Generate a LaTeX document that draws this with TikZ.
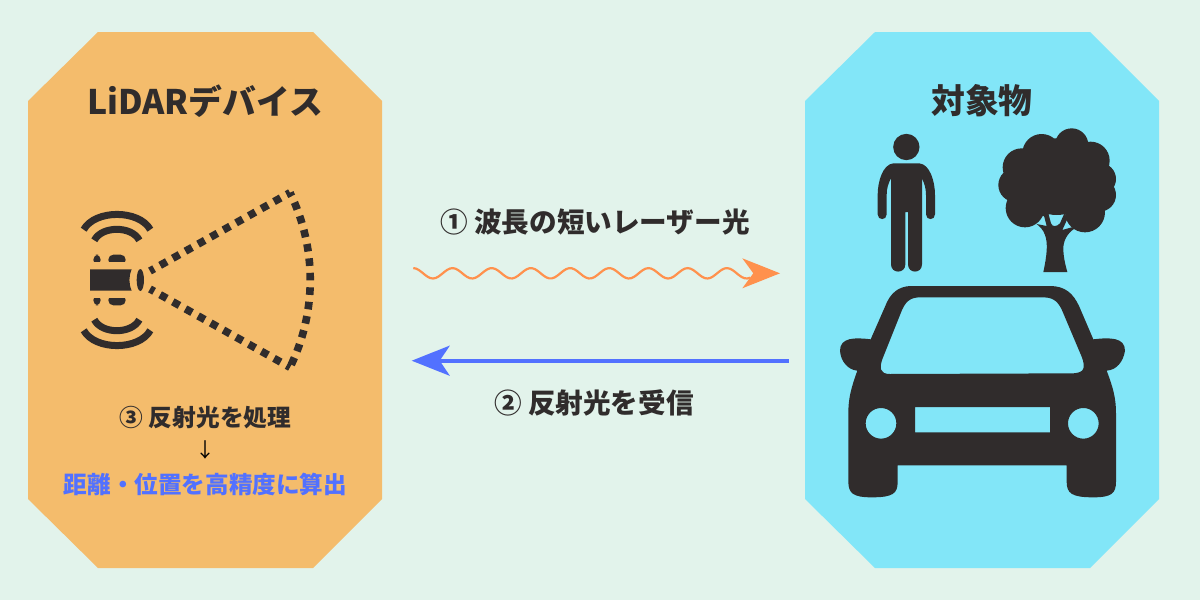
\documentclass[tikz,border=0pt]{standalone}
\usepackage{fontspec}
\usetikzlibrary{arrows.meta}
\newfontfamily\cjk{Noto Sans CJK JP}
\definecolor{bgc}{HTML}{E2F3EB}
\definecolor{panelA}{HTML}{F4BC6C}
\definecolor{panelB}{HTML}{82E6F8}
\definecolor{ink}{HTML}{302C2C}
\definecolor{bluec}{HTML}{5271FF}
\definecolor{orangec}{HTML}{FF914D}
\tikzset{
  lab/.style={inner sep=0pt,anchor=center,text=ink,font=\cjk\bfseries},
  dots/.style={draw=ink,line width=7.6pt,dash pattern=on 7.6pt off 6.9pt,dash phase=3.8pt},
  ring/.style={draw=ink,line width=7pt},
}
\newcommand{\fsz}[1]{\fontsize{#1}{#1}\selectfont}
\begin{document}
\begin{tikzpicture}[x=1pt,y=-1pt]
\useasboundingbox (0,0) rectangle (1200,600);
\fill[bgc] (0,0) rectangle (1200,600);
% panels
\fill[panelA] (98,32) -- (313,32) -- (382,101) -- (382,499) -- (313,568) -- (98,568) -- (28,499) -- (28,101) -- cycle;
\fill[panelB] (875,32) -- (1090,32) -- (1159,101) -- (1159,499) -- (1090,568) -- (875,568) -- (805,499) -- (805,101) -- cycle;
% titles and labels
\node[lab] (titleA) at (205,101) {\fsz{33.8}LiDARデバイス};
\node[lab] (titleB) at (982,101) {\fsz{33.8}対象物};
\node[lab] (one) at (595,222) {\fsz{27.6}① 波長の短いレーザー光};
\node[lab] (two) at (594,403) {\fsz{27.6}② 反射光を受信};
\node[lab] (three) at (205.5,418) {\fsz{23.7}③ 反射光を処理};
\node[inner sep=0pt,text=black,font=\cjk] (down) at (205.5,450) {\fsz{20}↓};
\node[lab,text=bluec] (result) at (205.5,484) {\fsz{23.6}距離・位置を高精度に算出};
% connectors
\coordinate (waveStart) at (413.3,268);
\coordinate (waveTip) at (780,273.3);
\coordinate (blueStart) at (788.5,360.7);
\coordinate (blueTip) at (411.7,360.7);
\draw[orangec,line width=2.2pt] plot[smooth,domain=413.3:750,samples=120] (\x,{273.3-5.2*cos((\x-413.3)/39.2*360)});
\fill[orangec] (waveTip) -- ++(-37.7,-15) -- ++(11,15) -- ++(-11,15) -- cycle;
\draw[bluec,line width=3.6pt,-{Stealth[length=38pt,width=30pt,inset=10pt]}] (blueStart) -- (blueTip);
% LiDAR icon
\begin{scope}[shift={(60,170)},scale=0.33333]
\fill[ink] (90,298) -- (215,298) .. controls (206,320) and (206,340) .. (215,362) -- (90,362) -- cycle;
\fill[ink] (241,330) ellipse[x radius=11,y radius=33];
\fill[ink,rounded corners=5pt] (100,285) -- (100,254) -- (122,254) -- (122,285) -- cycle;
\fill[ink,rounded corners=5pt] (145,285) -- (145,254) -- (197,254) -- (197,285) -- cycle;
\fill[panelA] (95,275) rectangle (205,290);
\fill[ink,rounded corners=5pt] (100,375) -- (100,406) -- (122,406) -- (122,375) -- cycle;
\fill[ink,rounded corners=5pt] (145,375) -- (145,406) -- (197,406) -- (197,375) -- cycle;
\fill[panelA] (95,370) rectangle (205,385);
\draw[ring] (71,179) .. controls (105,118) and (237,118) .. (271,179);
\draw[ring] (103,211) .. controls (125,167) and (216,167) .. (238,211);
\draw[ring] (71,481) .. controls (105,542) and (237,542) .. (271,481);
\draw[ring] (103,449) .. controls (125,493) and (216,493) .. (238,449);
\end{scope}
\draw[dots] (290,192.7) -- (150,271);
\draw[dots] (290,367.3) -- (150,289);
\draw[dots] (290,192.7) .. controls (317,247.8) and (317,312.2) .. (290,367.3);
% person
\begin{scope}[shift={(830,120)},scale=0.33333]
\fill[ink] (229,81) circle[radius=39.5];
\fill[ink] (190,130) -- (268,130) .. controls (300,133) and (315,185) .. (315,225)
  -- (315,283) .. controls (315,302) and (288,302) .. (288,283) -- (288,225)
  .. controls (288,205) and (283,190) .. (276,175) -- (276,433)
  .. controls (276,462) and (234,462) .. (234,433) -- (234,276) -- (226,276) -- (226,433)
  .. controls (226,462) and (183,462) .. (183,433) -- (183,175)
  .. controls (175,190) and (170,205) .. (170,225) -- (170,283)
  .. controls (170,302) and (143,302) .. (143,283) -- (143,225)
  .. controls (143,185) and (158,133) .. (190,130) -- cycle;
% tree
\fill[ink] (725,75) circle[radius=50] (635,100) circle[radius=58] (575,142) circle[radius=57]
  (556,195) circle[radius=51] (585,264) circle[radius=58] (765,277) circle[radius=60]
  (808,225) circle[radius=50] (810,177) circle[radius=48] (782,122) circle[radius=57]
  (680,170) circle[radius=115] (625,215) circle[radius=75] (745,215) circle[radius=75];
\fill[ink] (640,456) .. controls (650,410) and (655,370) .. (645,345) .. controls (640,330) and (630,320) .. (620,312)
  -- (650,318) -- (640,280) -- (655,280) -- (663,310) .. controls (668,322) and (680,320) .. (690,310)
  -- (703,280) -- (713,295) -- (697,330) -- (725,322) -- (735,325)
  .. controls (710,340) and (700,365) .. (700,385) .. controls (700,410) and (705,430) .. (712,456) -- cycle;
\end{scope}
% car
\begin{scope}[shift={(830,280)},scale=0.33333]
\fill[ink,even odd rule]
  (122,178) -- (165,80) .. controls (180,40) and (205,18) .. (245,18) -- (660,18)
  .. controls (705,18) and (730,40) .. (748,80) -- (790,178)
  .. controls (840,172) and (885,172) .. (885,212) .. controls (880,245) and (860,270) .. (830,272)
  .. controls (850,325) and (858,355) .. (858,400) -- (858,605) .. controls (858,640) and (845,652) .. (790,652)
  .. controls (725,652) and (710,640) .. (710,605) -- (710,556) -- (203,556) -- (203,605)
  .. controls (203,640) and (190,652) .. (125,652) .. controls (70,652) and (55,640) .. (55,605)
  -- (55,400) .. controls (55,355) and (63,325) .. (82,272)
  .. controls (55,270) and (32,245) .. (30,212) .. controls (30,172) and (75,172) .. (122,178) -- cycle
  (270,52) -- (640,52) .. controls (675,52) and (688,70) .. (700,100) -- (755,230)
  .. controls (768,265) and (762,278) .. (730,280) -- (180,282)
  .. controls (150,282) and (147,265) .. (158,235) -- (212,100)
  .. controls (225,65) and (240,52) .. (270,52) -- cycle
  (153,430) circle[radius=46] (760,430) circle[radius=46]
  (255,381) rectangle (660,457);
\end{scope}
\end{tikzpicture}
\end{document}
